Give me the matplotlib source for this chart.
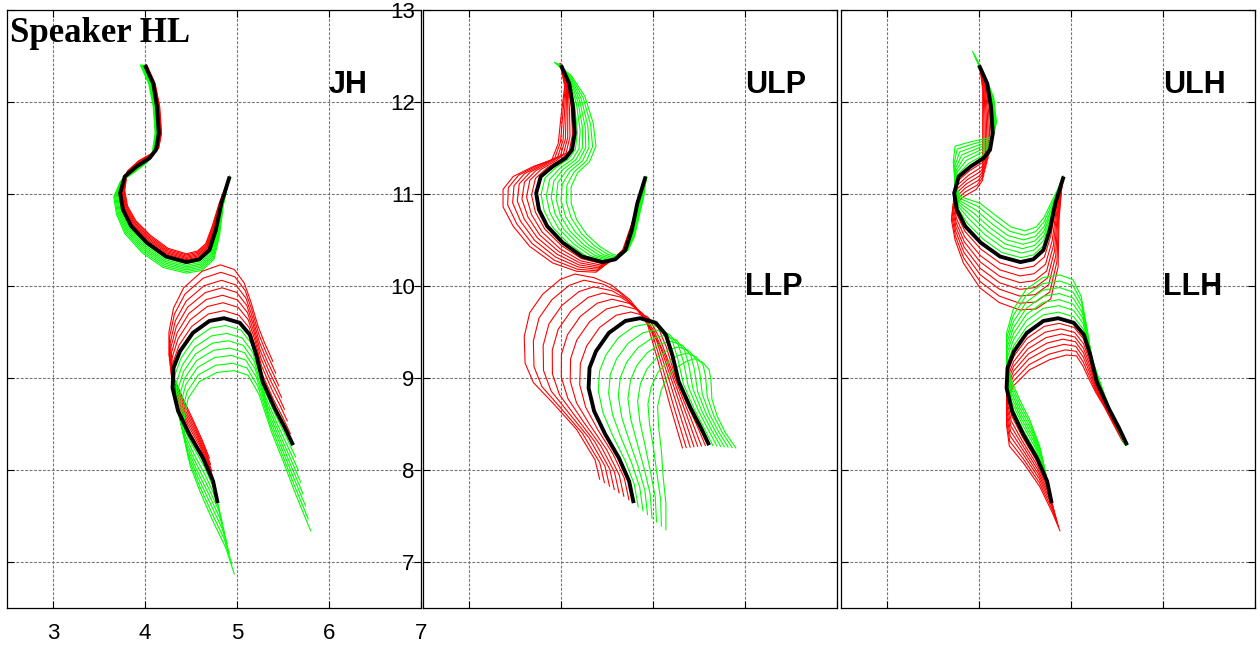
import matplotlib
matplotlib.use("Agg")
import matplotlib.pyplot as plt
import numpy as np

# neutral contours (black), shared by all three panels
ul_x = [4.00, 4.09, 4.13, 4.15, 4.12, 4.05, 3.91, 3.78, 3.73, 3.76, 3.85, 4.02, 4.23, 4.45, 4.59, 4.70, 4.77, 4.83, 4.92]
ul_y = [12.40, 12.20, 11.95, 11.66, 11.48, 11.39, 11.30, 11.19, 11.01, 10.83, 10.65, 10.47, 10.32, 10.26, 10.29, 10.39, 10.61, 10.90, 11.19]
ll_x = [4.79, 4.74, 4.63, 4.48, 4.36, 4.30, 4.31, 4.38, 4.52, 4.70, 4.86, 5.03, 5.14, 5.21, 5.28, 5.41, 5.52, 5.61]
ll_y = [7.64, 7.88, 8.13, 8.39, 8.64, 8.89, 9.11, 9.29, 9.49, 9.62, 9.65, 9.60, 9.47, 9.25, 8.96, 8.67, 8.46, 8.27]

# extreme contours of each parameter (red = one side, green = other side)
jh_ul_red_x = [4.02, 4.11, 4.16, 4.18, 4.15, 4.07, 3.93, 3.81, 3.78, 3.81, 3.90, 4.06, 4.25, 4.45, 4.57, 4.66, 4.73, 4.81, 4.92]
jh_ul_red_y = [12.40, 12.20, 11.95, 11.66, 11.50, 11.44, 11.36, 11.25, 11.04, 10.87, 10.71, 10.55, 10.41, 10.35, 10.38, 10.46, 10.65, 10.91, 11.19]
jh_ul_green_x = [3.95, 4.04, 4.09, 4.11, 4.08, 4.02, 3.89, 3.73, 3.66, 3.69, 3.78, 3.97, 4.20, 4.45, 4.62, 4.75, 4.81, 4.85, 4.92]
jh_ul_green_y = [12.40, 12.20, 11.95, 11.66, 11.46, 11.34, 11.24, 11.13, 10.97, 10.78, 10.57, 10.36, 10.20, 10.14, 10.17, 10.29, 10.55, 10.87, 11.19]
jh_ll_red_x = [4.70, 4.62, 4.52, 4.42, 4.32, 4.26, 4.26, 4.31, 4.42, 4.62, 4.82, 4.97, 5.08, 5.15, 5.23, 5.30, 5.35, 5.39]
jh_ll_red_y = [8.13, 8.33, 8.55, 8.76, 8.99, 9.25, 9.50, 9.76, 9.98, 10.16, 10.23, 10.18, 10.03, 9.83, 9.56, 9.38, 9.27, 9.18]
jh_ll_green_x = [4.97, 4.88, 4.74, 4.60, 4.49, 4.43, 4.43, 4.47, 4.59, 4.78, 4.97, 5.12, 5.24, 5.30, 5.38, 5.50, 5.64, 5.80]
jh_ll_green_y = [6.87, 7.15, 7.44, 7.76, 8.05, 8.35, 8.60, 8.78, 8.96, 9.06, 9.08, 9.03, 8.82, 8.64, 8.40, 8.10, 7.73, 7.34]

lp_ul_red_x = [3.99, 4.04, 4.00, 3.97, 3.90, 3.70, 3.48, 3.37, 3.37, 3.48, 3.66, 3.91, 4.17, 4.38, 4.56, 4.67, 4.76, 4.84, 4.91]
lp_ul_red_y = [12.42, 12.17, 11.84, 11.55, 11.37, 11.30, 11.19, 11.05, 10.86, 10.65, 10.43, 10.25, 10.16, 10.15, 10.29, 10.39, 10.65, 10.90, 11.17]
lp_ul_green_x = [3.93, 4.11, 4.26, 4.35, 4.38, 4.31, 4.18, 4.11, 4.11, 4.17, 4.28, 4.42, 4.55, 4.64, 4.73, 4.80, 4.85, 4.90, 4.93]
lp_ul_green_y = [12.43, 12.29, 12.06, 11.77, 11.52, 11.35, 11.23, 11.08, 10.90, 10.72, 10.56, 10.43, 10.35, 10.32, 10.39, 10.54, 10.76, 10.97, 11.19]
lp_ll_red_x = [4.42, 4.37, 4.17, 3.91, 3.70, 3.61, 3.60, 3.66, 3.80, 3.99, 4.15, 4.36, 4.55, 4.75, 4.93, 5.05, 5.18, 5.32]
lp_ll_red_y = [7.90, 8.11, 8.44, 8.73, 8.95, 9.16, 9.45, 9.71, 9.91, 10.07, 10.13, 10.09, 10.01, 9.85, 9.62, 9.20, 8.72, 8.24]
lp_ll_green_x = [5.14, 5.14, 5.11, 5.09, 5.06, 5.05, 5.09, 5.16, 5.25, 5.36, 5.45, 5.54, 5.61, 5.63, 5.64, 5.70, 5.79, 5.90]
lp_ll_green_y = [7.35, 7.64, 7.93, 8.22, 8.48, 8.69, 8.87, 9.02, 9.11, 9.18, 9.21, 9.17, 9.09, 8.98, 8.77, 8.58, 8.40, 8.24]

lh_ul_red_x = [4.01, 4.04, 4.04, 4.04, 4.04, 3.97, 3.83, 3.72, 3.70, 3.74, 3.83, 4.01, 4.22, 4.44, 4.62, 4.78, 4.86, 4.87, 4.91]
lh_ul_red_y = [12.38, 12.13, 11.77, 11.41, 11.15, 11.05, 10.97, 10.86, 10.72, 10.50, 10.25, 9.98, 9.82, 9.74, 9.75, 9.86, 10.21, 10.72, 11.19]
lh_ul_green_x = [3.93, 4.06, 4.16, 4.19, 4.15, 3.92, 3.74, 3.72, 3.74, 3.80, 4.01, 4.19, 4.35, 4.50, 4.62, 4.71, 4.80, 4.86, 4.91]
lh_ul_green_y = [12.55, 12.30, 12.05, 11.78, 11.62, 11.57, 11.52, 11.35, 11.12, 10.97, 10.90, 10.76, 10.64, 10.60, 10.64, 10.75, 10.94, 11.06, 11.19]
lh_ll_red_x = [4.88, 4.80, 4.66, 4.48, 4.33, 4.30, 4.30, 4.37, 4.55, 4.77, 4.95, 5.06, 5.13, 5.20, 5.27, 5.36, 5.47, 5.56]
lh_ll_red_y = [7.34, 7.53, 7.82, 8.08, 8.26, 8.48, 8.73, 8.91, 9.09, 9.20, 9.25, 9.24, 9.13, 8.98, 8.84, 8.69, 8.48, 8.31]
lh_ll_green_x = [4.73, 4.66, 4.55, 4.44, 4.35, 4.30, 4.30, 4.37, 4.51, 4.69, 4.88, 5.02, 5.11, 5.17, 5.22, 5.33, 5.45, 5.58]
lh_ll_green_y = [7.93, 8.26, 8.55, 8.77, 8.98, 9.24, 9.49, 9.74, 9.96, 10.09, 10.12, 10.07, 9.89, 9.56, 9.24, 8.91, 8.58, 8.28]

# parameter steps between neutral and extreme
steps = [0.14, 0.29, 0.43, 0.57, 0.71, 0.86, 1.0]

panels = [
    ("JH", None, [(jh_ul_red_x, jh_ul_red_y, jh_ul_green_x, jh_ul_green_y),
                  (jh_ll_red_x, jh_ll_red_y, jh_ll_green_x, jh_ll_green_y)]),
    ("ULP", "LLP", [(lp_ul_red_x, lp_ul_red_y, lp_ul_green_x, lp_ul_green_y),
                    (lp_ll_red_x, lp_ll_red_y, lp_ll_green_x, lp_ll_green_y)]),
    ("ULH", "LLH", [(lh_ul_red_x, lh_ul_red_y, lh_ul_green_x, lh_ul_green_y),
                    (lh_ll_red_x, lh_ll_red_y, lh_ll_green_x, lh_ll_green_y)]),
]
bases = [(ul_x, ul_y), (ll_x, ll_y)]

fig = plt.figure(figsize=(12.6, 6.5), dpi=100)
lefts = [7 / 1260, 423 / 1260, 841 / 1260]
width = 414 / 1260
bottom = 42 / 650
height = 598 / 650

for k, (lab_top, lab_bot, fams) in enumerate(panels):
    ax = fig.add_axes([lefts[k], bottom, width, height])
    ax.set_xlim(2.5, 7)
    ax.set_ylim(6.5, 13)
    ax.set_xticks([3, 4, 5, 6, 7])
    ax.set_yticks([7, 8, 9, 10, 11, 12, 13])
    ax.grid(True, ls=(0, (2.5, 1.5)), color='0.45', lw=0.8)
    ax.tick_params(direction='in', length=5, top=True, right=True,
                   labelleft=(k == 1), labelbottom=(k == 0), labelsize=16)
    ax.tick_params(axis='x', pad=11)
    ax.tick_params(axis='y', pad=6)
    for lbl in ax.get_xticklabels() + ax.get_yticklabels():
        lbl.set_family('Liberation Sans')
    for sp in ax.spines.values():
        sp.set_linewidth(0.9)

    for (bx, by), (rx, ry, gx, gy) in zip(bases, fams):
        bx_a, by_a = np.array(bx), np.array(by)
        for ex, ey, col in ((rx, ry, '#ff0000'), (gx, gy, '#00ff00')):
            ex_a, ey_a = np.array(ex), np.array(ey)
            for w in steps:
                ax.plot(bx_a + w * (ex_a - bx_a), by_a + w * (ey_a - by_a),
                        color=col, lw=0.8)
        ax.plot(bx, by, color='black', lw=2.8, solid_capstyle='butt')

    ax.text(6.0, 12.19, lab_top, family='Liberation Sans', weight='bold',
            size=22, va='center', ha='left')
    if lab_bot:
        ax.text(6.0, 9.99, lab_bot, family='Liberation Sans', weight='bold',
                size=22, va='center', ha='left')
    if k == 0:
        ax.text(2.53, 12.75, 'Speaker HL', family='Liberation Serif',
                weight='bold', size=25, va='center', ha='left')

fig.savefig('out.png', dpi=100)
